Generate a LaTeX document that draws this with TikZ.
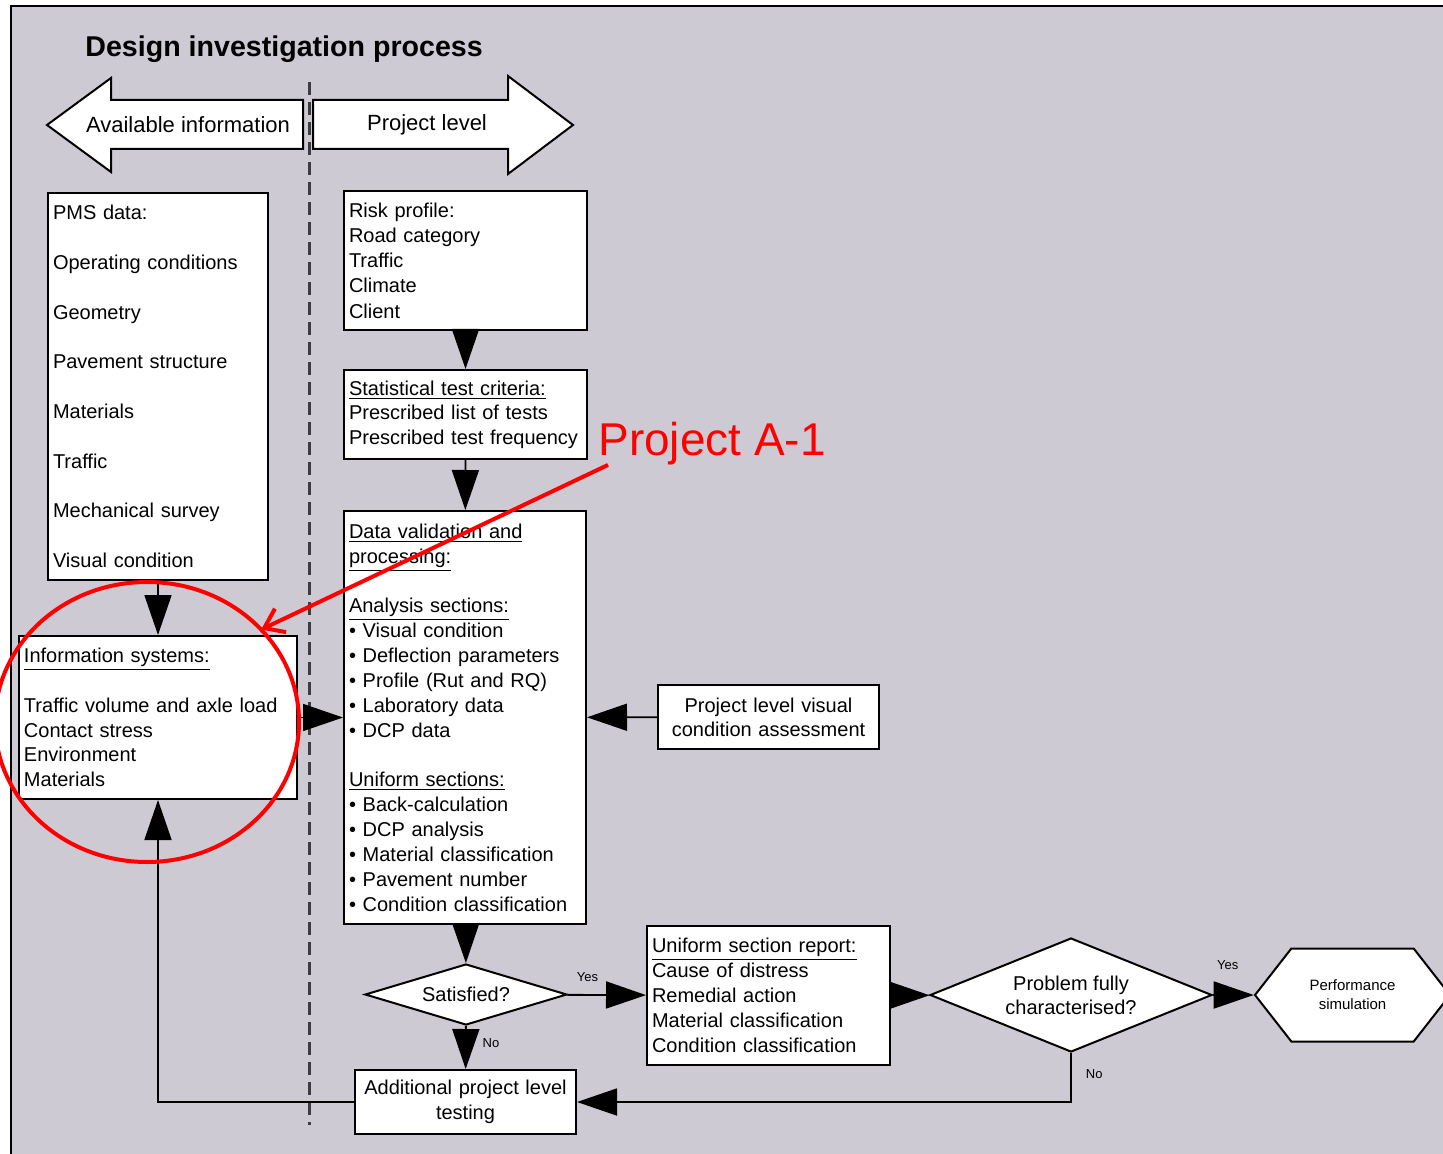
\documentclass[tikz,border=0pt]{standalone}
\usepackage{fontspec}
\setmainfont{Liberation Sans}
\usetikzlibrary{arrows.meta,shapes.geometric,shapes.symbols}
\definecolor{panel}{RGB}{206,202,211}
\definecolor{dashgrey}{RGB}{60,60,60}
\def\bul{\textbullet\ }

\tikzset{
  box/.style={draw, fill=white, line width=1pt, inner xsep=2.5pt, inner ysep=0pt, align=left},
  cbox/.style={box, align=center},
  lines/.style={font=\fontsize{10}{#1}\selectfont},
  decision/.style={diamond, draw, fill=white, line width=1pt, inner sep=0pt, align=center},
  flow/.style={line width=0.9pt, -{Triangle[length=20pt,width=13.5pt]}},
  yesno/.style={font=\fontsize{6.5}{7}\selectfont, inner sep=1pt},
  redmark/.style={draw=red, line width=2pt}
}

\begin{document}
\begin{tikzpicture}[x=0.5pt, y=-0.5pt]
			%%%%% START %%%%%
			\useasboundingbox (0,0) rectangle (1443,1154);
			\fill[panel] (11,6) rectangle (1470,1170);
			\draw[line width=1pt] (11,1170) -- (11,6) -- (1470,6);
			
			\node[anchor=west, inner sep=0pt, font=\bfseries\fontsize{14.3}{16}\selectfont] (title) at (85,49) {Design investigation process};
			
			% side arrows
			\draw[line width=1pt, fill=white] (303,100) -- (111,100) -- (111,78) -- (47,125) -- (111,172) -- (111,149) -- (303,149) -- cycle;
			\node[font=\fontsize{11}{13}\selectfont] (avail) at (188,125) {Available information};
			\draw[line width=1pt, fill=white] (313,100) -- (508,100) -- (508,76) -- (573,125) -- (508,174) -- (508,149) -- (313,149) -- cycle;
			\node[font=\fontsize{11}{13}\selectfont] (plevel) at (427,125) {Project level};
			
			\draw[dashgrey, line width=1.5pt, dash pattern=on 6.5pt off 3.5pt] (309,82) -- (309,1125);
			
			% boxes
			\node[box, text width=105pt, minimum height=193.5pt, lines=24.85pt] (pms) at (158,386.5) {PMS data:\\Operating conditions\\Geometry\\Pavement structure\\Materials\\Traffic\\Mechanical survey\\Visual condition};
			\node[box, text width=134pt, minimum height=81.5pt, lines=12.4pt] (info) at (158,717.5) {\underline{Information systems:}\\[12.4pt]Traffic volume and axle load\\Contact stress\\Environment\\Materials};
			\node[box, text width=116.5pt, minimum height=69.5pt, lines=12.6pt] (risk) at (465.5,260.5) {Risk profile:\\Road category\\Traffic\\Climate\\Client};
			\node[box, text width=116.5pt, minimum height=44.5pt, lines=12.25pt] (stat) at (465.5,414.5) {\underline{Statistical test criteria:}\\Prescribed list of tests\\Prescribed test frequency};
			\node[box, text width=116pt, minimum height=206.5pt, lines=12.43pt] (data) at (465,717.5) {\underline{Data validation and}\\\underline{processing:}\\[12.43pt]\underline{Analysis sections:}\\\bul Visual condition\\\bul Deflection parameters\\\bul Profile (Rut and RQ)\\\bul Laboratory data\\\bul DCP data\\[12.43pt]\underline{Uniform sections:}\\\bul Back-calculation\\\bul DCP analysis\\\bul Material classification\\\bul Pavement number\\\bul Condition classification};
			\node[cbox, text width=105.5pt, minimum height=32pt, lines=12pt] (visual) at (768.5,717) {Project level visual\\condition assessment};
			\node[box, text width=116.5pt, minimum height=69.5pt, lines=12.5pt] (usr) at (768.5,995.5) {\underline{Uniform section report:}\\Cause of distress\\Remedial action\\Material classification\\Condition classification};
			\node[cbox, text width=105.5pt, minimum height=32pt, lines=12.5pt] (addtest) at (465.5,1102) {Additional project level\\testing};
			
			\node[decision, aspect=3.3, minimum width=101pt, minimum height=30.5pt, lines=12pt] (sat) at (466,994.5) {Satisfied?};
			\node[decision, aspect=2.47, minimum width=141pt, minimum height=57pt, lines=12pt] (prob) at (1071,995) {Problem fully\\characterised?};
			\node[signal, signal to=west and east, signal pointer angle=104, draw, fill=white, line width=1pt, inner sep=0pt, minimum width=97.5pt, minimum height=46.5pt, align=center, font=\fontsize{7.5}{9.5}\selectfont] (perf) at (1352.5,995) {Performance\\simulation};
			
			% connectors
			\draw[flow] (risk) -- (stat);
			\draw[flow] (stat) -- (data);
			\draw[flow] (pms) -- (info);
			\draw[flow] (info) -- (data);
			\draw[flow] (visual) -- (data);
			\draw[flow] (data) -- (sat);
			\draw[flow] (sat) -- node[yesno, pos=0.26, above=5pt] {Yes} (usr);
			\draw[flow] (sat) -- node[yesno, pos=0.4, right=7pt] {No} (addtest);
			\draw[flow] (usr) -- (prob);
			\draw[flow] (prob) -- node[yesno, pos=0.36, above=11pt] {Yes} (perf);
			\draw[flow] (prob) |- node[yesno, pos=0.22, right=6pt] {No} (addtest);
			\draw[flow] (addtest) -| (info);
			
			% red note
			\node[redmark, ellipse, inner sep=0pt, outer sep=0pt, minimum width=152pt, minimum height=140pt] (circ) at (147,722) {};
			\node[anchor=base west, inner sep=0pt, text=red, font=\fontsize{23}{26}\selectfont] (projA) at (598,455) {Project A-1};
			\draw[redmark, -{Straight Barb[length=9pt,width=13pt]}] ([xshift=5pt]projA.south west) -- (circ.39);
			%%%%% END %%%%%
\end{tikzpicture}
\end{document}
